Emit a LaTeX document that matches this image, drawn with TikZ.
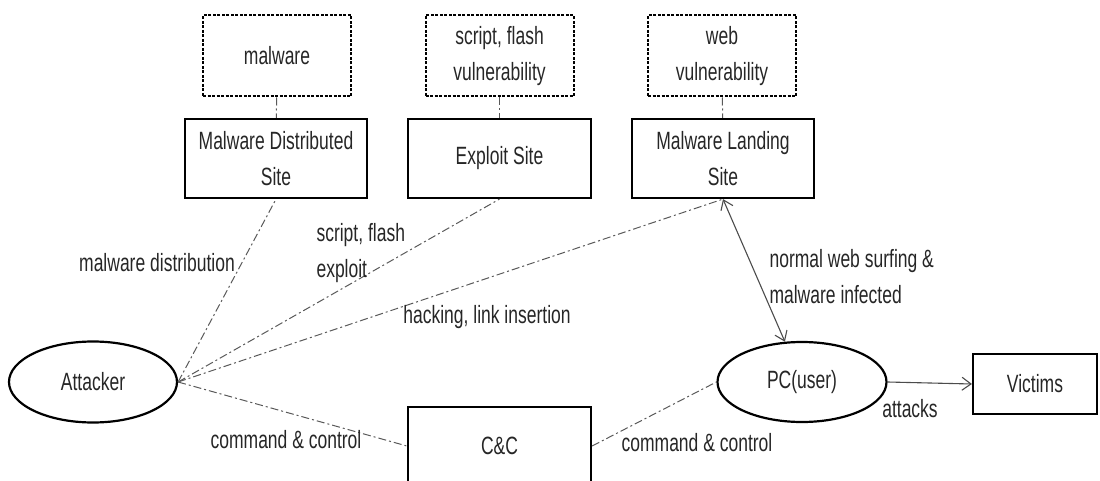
\documentclass[tikz,border=0pt]{standalone}
\usepackage{fontspec}
\newfontfamily\narrowsans[FakeStretch=0.7]{Liberation Sans}
\usetikzlibrary{shapes.geometric,arrows.meta}

\begin{document}
\begin{tikzpicture}[x=1pt,y=-1pt]
        \tikzstyle{every node}=[font=\narrowsans\fontsize{25}{36}\selectfont, text=black!85]
        \tikzstyle{site}=[rectangle, draw, line width=2.2pt, align=center, inner sep=0pt]
        \tikzstyle{vuln}=[rectangle, draw, dash pattern=on 3pt off 1.5pt, line width=2pt, align=center, inner sep=0pt, minimum width=148, minimum height=81]
        \tikzstyle{oval}=[ellipse, draw, line width=2.2pt, inner sep=0pt]
        \tikzstyle{dashdot}=[gray!70!black, line width=1pt, dash pattern=on 8pt off 3pt on 2pt off 3pt]
        \tikzstyle{arr}=[black!70, line width=1.1pt]

        \clip (0,0) rectangle (1100,481);

        \node[vuln] (mal) at (277,56) {malware};
        \node[vuln] (sfv) at (499.5,56) {script, flash\\vulnerability};
        \node[vuln] (wv)  at (722,56) {web\\vulnerability};

        \node[site, minimum width=182, minimum height=79] (mds) at (276,158.5) {Malware Distributed\\Site};
        \node[site, minimum width=183, minimum height=79] (es)  at (499.5,158.5) {Exploit Site};
        \node[site, minimum width=182, minimum height=79] (mls) at (723,158.5) {Malware Landing\\Site};

        \node[oval, minimum width=168, minimum height=81] (att) at (93,382) {Attacker};
        \node[oval, minimum width=169, minimum height=80] (pc) at (802,382) {PC(user)};
        \node[site, minimum width=124, minimum height=60] (vic) at (1035,384) {Victims};
        \node[site, minimum width=183, minimum height=78] (cc) at (499.5,446) {C\&C};

        \draw[dashdot] (mal) -- (mds);
        \draw[dashdot] (sfv) -- (es);
        \draw[dashdot] (wv) -- (mls);

        \draw[dashdot] (att.east) -- (mds.south);
        \draw[dashdot] (att.east) -- (es.south);
        \draw[dashdot] (att.east) -- (mls.south);
        \draw[dashdot] (att.east) -- (cc.west);
        \draw[dashdot] (cc.east) -- (pc.west);

        \draw[arr, {Straight Barb[length=9pt,width=13pt]}-{Straight Barb[length=9pt,width=13pt]}] (mls.south) -- (pc.113);
        \draw[arr, -{Straight Barb[length=9pt,width=13pt]}] (pc.east) -- (vic.west);

        \node at (157,263) {malware distribution};
        \node[anchor=west, align=left] at (313,253) {script, flash\\exploit};
        \node at (487,317) {hacking, link insertion};
        \node[anchor=west, align=left] at (766,277) {normal web surfing \&\\malware infected};
        \node at (286,440) {command \& control};
        \node at (697,443) {command \& control};
        \node at (910,409) {attacks};
    \end{tikzpicture}
\end{document}
